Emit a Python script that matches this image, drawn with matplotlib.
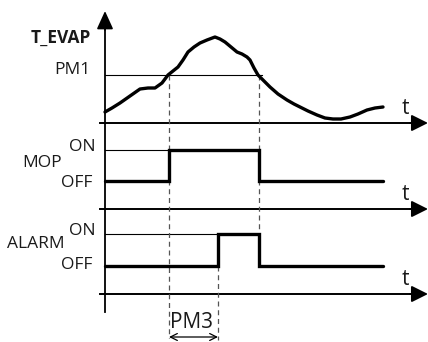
import matplotlib
matplotlib.use("Agg")
import matplotlib.pyplot as plt

plt.rcParams['font.family'] = ['Open Sans', 'DejaVu Sans']

# T_EVAP curve (diagram coords: x right, y down)
curve_x = [105, 112, 120, 130, 140, 148, 155, 162, 168, 173, 178, 183, 188, 194, 200, 207, 215, 220, 225, 231, 237, 242, 247, 250, 254, 258, 264, 270, 278, 287, 294, 300, 308, 317, 325, 333, 341, 350, 358, 367, 375, 383]
curve_y = [112, 108, 103, 96, 89, 88, 88, 83, 75, 71, 67, 60, 52, 47, 43, 40, 37, 39, 42, 47, 52, 54, 57, 60, 68, 75, 81, 87, 94, 100, 104, 107, 111, 115, 118, 119, 119, 117, 114, 110, 108, 107]

# MOP signal
mop_x = [105, 169, 169, 259, 259, 383]
mop_state = [0, 0, 1, 1, 0, 0]
# ALARM signal
alarm_x = [105, 218, 218, 259, 259, 383]
alarm_state = [0, 0, 1, 1, 0, 0]

# levels (y of OFF / ON) for each panel
mop_off, mop_on = 181, 150
alarm_off, alarm_on = 266, 234

fig = plt.figure(figsize=(4.28, 3.42), dpi=100)
ax = fig.add_axes([0, 0, 1, 1])
ax.set_xlim(0, 428)
ax.set_ylim(342, 0)
ax.axis('off')

k = 'black'
# vertical axis with arrow
ax.plot([105, 105], [312, 24], color=k, lw=1.3)
ax.annotate('', xy=(105, 11), xytext=(105, 30),
            arrowprops=dict(arrowstyle='-|>,head_length=1.1,head_width=0.5', color=k, lw=1.3, shrinkA=0, shrinkB=0))

# time axes
for yy in [123, 209, 294]:
    ax.plot([100, 416], [yy, yy], color=k, lw=1.4)
    ax.annotate('', xy=(428, yy), xytext=(410, yy),
                arrowprops=dict(arrowstyle='-|>,head_length=1.0,head_width=0.5', color=k, lw=1.4, shrinkA=0, shrinkB=0))
    ax.text(405, yy - 4, 't', fontsize=15, ha='center', va='bottom', color='#1a1a1a')

# PM1 line
ax.plot([105, 262], [75, 75], color=k, lw=0.8)
# ON reference lines
ax.plot([105, 169], [mop_on, mop_on], color=k, lw=0.8)
ax.plot([105, 218], [alarm_on, alarm_on], color=k, lw=0.8)

# dashed verticals
dash = dict(color='#555555', lw=0.9, ls=(0, (4, 3)))
ax.plot([169, 169], [75, 338], **dash)
ax.plot([259, 259], [75, 266], **dash)
ax.plot([218, 218], [266, 340], **dash)

# curve
ax.plot(curve_x, curve_y, color=k, lw=2.4, solid_capstyle='round', solid_joinstyle='round')

# signals
mop_y = [mop_on if s else mop_off for s in mop_state]
alarm_y = [alarm_on if s else alarm_off for s in alarm_state]
ax.plot(mop_x, mop_y, color=k, lw=2.4, solid_joinstyle='miter', solid_capstyle='round')
ax.plot(alarm_x, alarm_y, color=k, lw=2.4, solid_joinstyle='miter', solid_capstyle='round')

# labels
fs = 12.5
tc = '#1a1a1a'
ax.text(91, 38, 'T_EVAP', fontsize=fs, fontweight='bold', ha='right', va='center', color=tc)
ax.text(91, 70, 'PM1', fontsize=fs, ha='right', va='center', color=tc)
ax.text(96, 147, 'ON', fontsize=fs, ha='right', va='center', color=tc)
ax.text(62, 163, 'MOP', fontsize=fs, ha='right', va='center', color=tc)
ax.text(92, 183, 'OFF', fontsize=fs, ha='right', va='center', color=tc)
ax.text(96, 231, 'ON', fontsize=fs, ha='right', va='center', color=tc)
ax.text(65, 244, 'ALARM', fontsize=fs, ha='right', va='center', color=tc)
ax.text(92, 265, 'OFF', fontsize=fs, ha='right', va='center', color=tc)
ax.text(192, 322, 'PM3', fontsize=15, ha='center', va='center', color=tc)

# PM3 double arrow
ax.annotate('', xy=(169, 337), xytext=(218, 337),
            arrowprops=dict(arrowstyle='<->,head_length=0.5,head_width=0.25', color=k, lw=0.9, shrinkA=0, shrinkB=0))

fig.savefig('out.png', dpi=100)
